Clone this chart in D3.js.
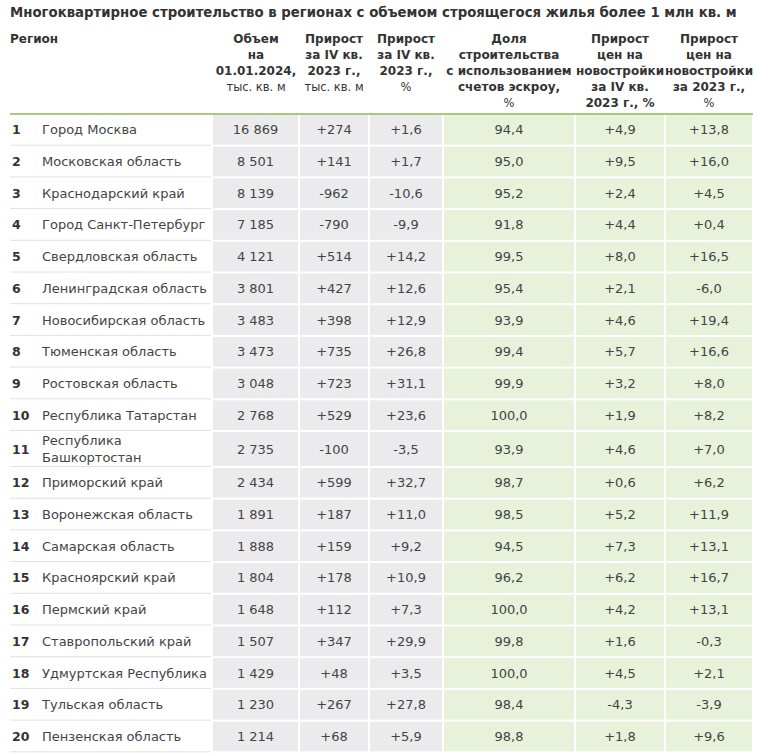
<!DOCTYPE html>
<html><head><meta charset="utf-8">
<script src="https://cdn.jsdelivr.net/npm/d3@7"></script>
<style>
html,body{margin:0;padding:0;background:#fff;}
svg{display:block;font-family:"DejaVu Sans",Verdana,sans-serif;}
</style></head>
<body><svg id="chart" width="758" height="756"></svg>
<script>
const title = "Многоквартирное строительство в регионах с объемом строящегося жилья более 1 млн кв. м";
const regions = ["Город Москва","Московская область","Краснодарский край","Город Санкт-Петербург","Свердловская область","Ленинградская область","Новосибирская область","Тюменская область","Ростовская область","Республика Татарстан","Республика\nБашкортостан","Приморский край","Воронежская область","Самарская область","Красноярский край","Пермский край","Ставропольский край","Удмуртская Республика","Тульская область","Пензенская область"];
const volume = ["16 869","8 501","8 139","7 185","4 121","3 801","3 483","3 473","3 048","2 768","2 735","2 434","1 891","1 888","1 804","1 648","1 507","1 429","1 230","1 214"];
const growthAbs = ["+274","+141","-962","-790","+514","+427","+398","+735","+723","+529","-100","+599","+187","+159","+178","+112","+347","+48","+267","+68"];
const growthPct = ["+1,6","+1,7","-10,6","-9,9","+14,2","+12,6","+12,9","+26,8","+31,1","+23,6","-3,5","+32,7","+11,0","+9,2","+10,9","+7,3","+29,9","+3,5","+27,8","+5,9"];
const escrow = ["94,4","95,0","95,2","91,8","99,5","95,4","93,9","99,4","99,9","100,0","93,9","98,7","98,5","94,5","96,2","100,0","99,8","100,0","98,4","98,8"];
const priceQ4 = ["+4,9","+9,5","+2,4","+4,4","+8,0","+2,1","+4,6","+5,7","+3,2","+1,9","+4,6","+0,6","+5,2","+7,3","+6,2","+4,2","+1,6","+4,5","-4,3","+1,8"];
const priceYear = ["+13,8","+16,0","+4,5","+0,4","+16,5","-6,0","+19,4","+16,6","+8,0","+8,2","+7,0","+6,2","+11,9","+13,1","+16,7","+13,1","-0,3","+2,1","-3,9","+9,6"];
const headers = [
  [["Объем",1],["на",1],["01.01.2024,",1],["тыс. кв. м",0]],
  [["Прирост",1],["за IV кв.",1],["2023 г.,",1],["тыс. кв. м",0]],
  [["Прирост",1],["за IV кв.",1],["2023 г.,",1],["%",0]],
  [["Доля",1],["строительства",1],["с использованием",1],["счетов эскроу,",1],["%",0]],
  [["Прирост",1],["цен на",1],["новостройки",1],["за IV кв.",1],["2023 г., %",1]],
  [["Прирост",1],["цен на",1],["новостройки",1],["за 2023 г.,",1],["%",0]]
];
const columns = [volume, growthAbs, growthPct, escrow, priceQ4, priceYear];

// layout
const colEdges = [213, 299, 369, 443, 575, 665, 753];
const tableTop = 114;
const baseH = 31.7, twoH = 36;
const gray = "#ebebed", green = "#e8f2da";

const svg = d3.select("#chart");

// title
const t = svg.append("text").attr("x", 10).attr("y", 17)
  .attr("font-weight", "bold").attr("font-size", 13).attr("fill", "#333").text(title);
const tw = t.node().getComputedTextLength();
t.attr("font-size", 13 * 727 / tw);

// headers
svg.append("text").attr("x", 10).attr("y", 43).attr("font-weight","bold")
  .attr("font-size", 12).attr("fill","#333").text("Регион");

headers.forEach((lines, ci) => {
  const cx = (colEdges[ci] + colEdges[ci+1]) / 2;
  lines.forEach(([txt, bold], li) => {
    svg.append("text").attr("x", cx).attr("y", 43 + li * 16)
      .attr("text-anchor","middle")
      .attr("font-weight", bold ? "bold" : "normal")
      .attr("font-size", bold ? 12 : 11.5)
      .attr("fill", "#333").text(txt);
  });
});

// row positions
const heights = regions.map(r => r.includes("\n") ? twoH : baseH);
const tops = [];
heights.reduce((acc, h, i) => { tops[i] = acc; return acc + h; }, tableTop);
const y = i => tops[i];

// cells
columns.forEach((col, ci) => {
  const x0 = colEdges[ci] + (ci === 0 ? 0 : 1), x1 = colEdges[ci+1] - 1;
  const g = svg.append("g");
  g.selectAll("rect").data(col).join("rect")
    .attr("x", x0).attr("width", x1 - x0)
    .attr("y", (d, i) => y(i) + 1).attr("height", (d, i) => heights[i] - 2)
    .attr("fill", ci < 3 ? gray : green);
  g.selectAll("text").data(col).join("text")
    .attr("x", (x0 + x1) / 2).attr("y", (d, i) => y(i) + heights[i] / 2 + 4.5)
    .attr("text-anchor","middle").attr("font-size", 13).attr("fill","#444").text(d => d);
});

// region separators
svg.append("g").selectAll("line").data(regions).join("line")
  .attr("x1", 10).attr("x2", 211)
  .attr("y1", (d, i) => y(i) + heights[i] - 0.5).attr("y2", (d, i) => y(i) + heights[i] - 0.5)
  .attr("stroke", "#e2e2e2").attr("stroke-width", 1);

// numbers
svg.append("g").selectAll("text").data(regions).join("text")
  .attr("x", 12).attr("y", (d, i) => y(i) + heights[i] / 2 + 4.5)
  .attr("font-weight","bold").attr("font-size", 12.5).attr("fill","#333")
  .text((d, i) => i + 1);

// region names
const rn = svg.append("g").selectAll("text").data(regions).join("text")
  .attr("x", 42).attr("font-size", 13).attr("fill","#444");
rn.each(function(d, i) {
  const parts = d.split("\n");
  const sel = d3.select(this);
  const cy = y(i) + heights[i] / 2 + 4.5;
  parts.forEach((p, k) => {
    sel.append("tspan").attr("x", 42)
      .attr("y", cy + (k - (parts.length - 1) / 2) * 17).text(p);
  });
});

// green top line
svg.append("line").attr("x1", 10).attr("x2", 753).attr("y1", tableTop).attr("y2", tableTop)
  .attr("stroke", "#a6cb7d").attr("stroke-width", 2);
</script></body></html>
